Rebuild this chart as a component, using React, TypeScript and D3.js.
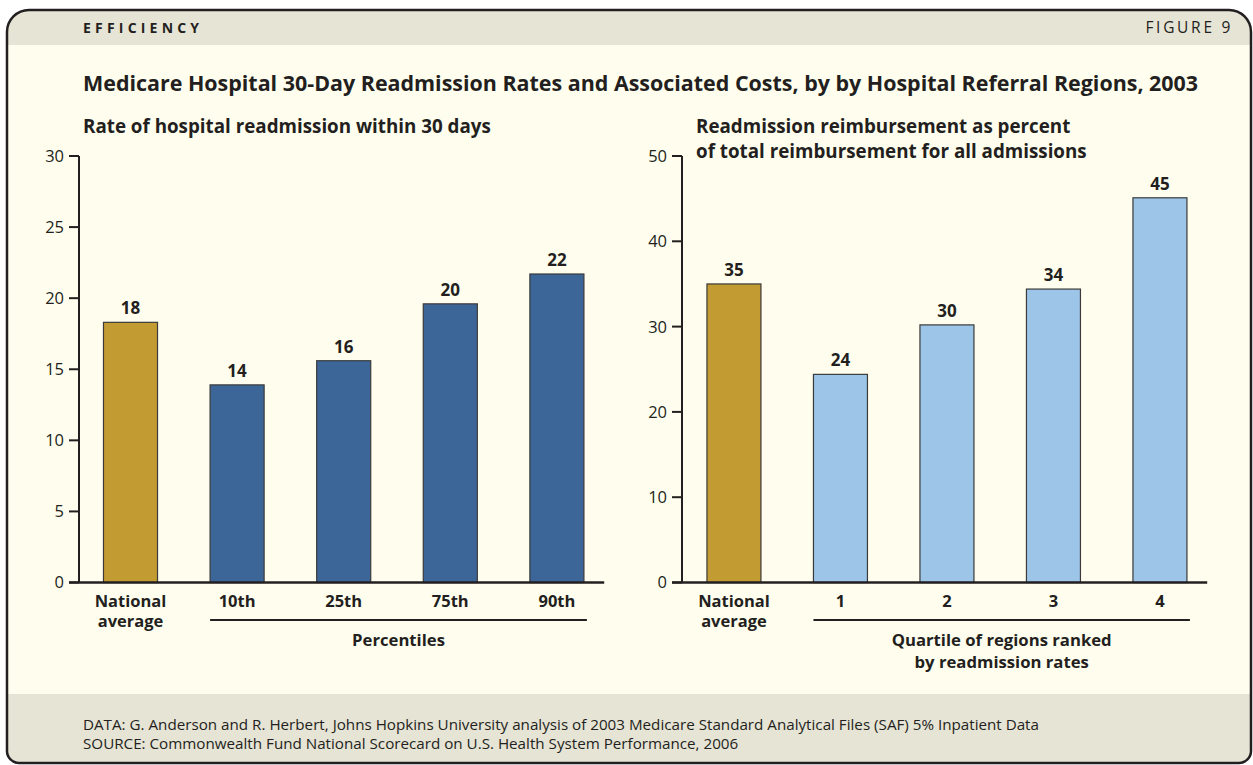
import React from "react";
import * as d3 from "d3";

const leftCategories = ["National average", "10th", "25th", "75th", "90th"];
const leftValues = [18.3, 13.9, 15.6, 19.6, 21.7];
const leftTicks = [0, 5, 10, 15, 20, 25, 30];

const rightCategories = ["National average", "1", "2", "3", "4"];
const rightValues = [35.0, 24.4, 30.2, 34.4, 45.1];
const rightTicks = [0, 10, 20, 30, 40, 50];

const W = 1253;
const H = 765;
const INK = "#231f20";
const GOLD = "#c39b33";
const DARKBLUE = "#3d6698";
const LIGHTBLUE = "#9dc5e8";
const BAND = "#e6e4d5";
const BODY = "#fffeee";
const FONT = "'Open Sans', 'Noto Sans', sans-serif";

function framePath(x0: number, y0: number, x1: number, y1: number, rt: number, rb: number) {
  const p = d3.path();
  p.moveTo(x0 + rt, y0);
  p.lineTo(x1 - rt, y0);
  p.arcTo(x1, y0, x1, y0 + rt, rt);
  p.lineTo(x1, y1 - rb);
  p.arcTo(x1, y1, x1 - rb, y1, rb);
  p.lineTo(x0 + rb, y1);
  p.arcTo(x0, y1, x0, y1 - rb, rb);
  p.lineTo(x0, y0 + rt);
  p.arcTo(x0, y0, x0 + rt, y0, rt);
  p.closePath();
  return p.toString();
}

type PanelProps = {
  categories: string[];
  values: number[];
  ticks: number[];
  axisX: number;
  range: [number, number];
  colors: string[];
  groupLabel: string[];
};

function Panel({ categories, values, ticks, axisX, range, colors, groupLabel }: PanelProps) {
  const y = d3.scaleLinear().domain([0, ticks[ticks.length - 1]]).range([582.5, 156]);
  const x = d3
    .scaleBand<string>()
    .domain(categories)
    .range(range)
    .paddingInner(0.493)
    .paddingOuter(0.2465);
  const bw = x.bandwidth();
  const gStart = x(categories[1])!;
  const gEnd = x(categories[categories.length - 1])! + bw + 3;
  const gMid = (gStart + gEnd) / 2;
  return (
    <g>
      {values.map((v, i) => (
        <g key={i}>
          <rect
            x={x(categories[i])}
            y={y(v)}
            width={bw}
            height={y(0) - y(v)}
            fill={colors[i]}
            stroke="#3a3a3a"
            strokeWidth={1.2}
          />
          <text
            x={x(categories[i])! + bw / 2}
            y={y(v) - 8}
            textAnchor="middle"
            fontFamily={FONT}
            fontWeight={700}
            fontSize={17}
            fill={INK}
          >
            {Math.round(v)}
          </text>
        </g>
      ))}
      {/* y axis */}
      <line x1={axisX} x2={axisX} y1={y(ticks[ticks.length - 1])} y2={y(0)} stroke={INK} strokeWidth={2} />
      {ticks.map((t) => (
        <g key={t}>
          <line x1={axisX - 10} x2={axisX} y1={y(t)} y2={y(t)} stroke={INK} strokeWidth={2} />
          <text
            x={axisX - 15}
            y={y(t)}
            dy="0.36em"
            textAnchor="end"
            fontFamily={FONT}
            fontSize={16.5}
            fill={INK}
          >
            {t}
          </text>
        </g>
      ))}
      {/* x axis */}
      <line x1={axisX - 10} x2={range[1] - 6} y1={y(0)} y2={y(0)} stroke={INK} strokeWidth={2.5} />
      {categories.map((c, i) => {
        const words = i === 0 ? ["National", "average"] : [c];
        return (
          <text
            key={c}
            x={x(c)! + bw / 2}
            y={607}
            textAnchor="middle"
            fontFamily={FONT}
            fontWeight={700}
            fontSize={16.5}
            fill={INK}
          >
            {words.map((w, j) => (
              <tspan key={j} x={x(c)! + bw / 2} dy={j === 0 ? 0 : 19.5}>
                {w}
              </tspan>
            ))}
          </text>
        );
      })}
      <line x1={gStart} x2={gEnd} y1={620} y2={620} stroke={INK} strokeWidth={2} />
      <text x={gMid} y={646} textAnchor="middle" fontFamily={FONT} fontWeight={700} fontSize={16.7} fill={INK}>
        {groupLabel.map((w, j) => (
          <tspan key={j} x={gMid} dy={j === 0 ? 0 : 22}>
            {w}
          </tspan>
        ))}
      </text>
    </g>
  );
}

export default function App() {
  const outer = framePath(7, 10, 1251, 763, 22, 12);
  return (
    <div style={{ position: "absolute", left: 0, top: 0 }}>
      <svg width={W} height={H} viewBox={`0 0 ${W} ${H}`} style={{ display: "block", background: "#fff" }}>
        <defs>
          <clipPath id="frameClip">
            <path d={outer} />
          </clipPath>
        </defs>
        <g clipPath="url(#frameClip)">
          <rect x={0} y={0} width={W} height={H} fill={BODY} />
          <rect x={0} y={0} width={W} height={45} fill={BAND} />
          <rect x={0} y={694} width={W} height={H - 694} fill={BAND} />
        </g>
        <path d={outer} fill="none" stroke={INK} strokeWidth={2.5} />

        <text x={83} y={33} fontFamily={FONT} fontWeight={700} fontSize={14} letterSpacing={4.2} fill={INK}>
          EFFICIENCY
        </text>
        <text x={1233} y={33} textAnchor="end" fontFamily={FONT} fontSize={15.5} letterSpacing={2.7} fill={INK}>
          FIGURE 9
        </text>

        <text x={83} y={91} fontFamily={FONT} fontWeight={700} fontSize={21.45} fill={INK}>
          Medicare Hospital 30-Day Readmission Rates and Associated Costs, by by Hospital Referral Regions, 2003
        </text>
        <text x={83} y={133} fontFamily={FONT} fontWeight={700} fontSize={18.8} fill={INK}>
          Rate of hospital readmission within 30 days
        </text>
        <text x={696} y={133} fontFamily={FONT} fontWeight={700} fontSize={18.8} fill={INK}>
          <tspan x={696}>Readmission reimbursement as percent</tspan>
          <tspan x={696} dy={24.5}>of total reimbursement for all admissions</tspan>
        </text>

        <Panel
          categories={leftCategories}
          values={leftValues}
          ticks={leftTicks}
          axisX={79}
          range={[77.2, 610.2]}
          colors={[GOLD, DARKBLUE, DARKBLUE, DARKBLUE, DARKBLUE]}
          groupLabel={["Percentiles"]}
        />
        <Panel
          categories={rightCategories}
          values={rightValues}
          ticks={rightTicks}
          axisX={682}
          range={[680.7, 1213.2]}
          colors={[GOLD, LIGHTBLUE, LIGHTBLUE, LIGHTBLUE, LIGHTBLUE]}
          groupLabel={["Quartile of regions ranked", "by readmission rates"]}
        />

        <text x={83} y={730} fontFamily={FONT} fontSize={15.2} fill={INK}>
          DATA: G. Anderson and R. Herbert, Johns Hopkins University analysis of 2003 Medicare Standard Analytical Files (SAF) 5% Inpatient Data
        </text>
        <text x={83} y={749} fontFamily={FONT} fontSize={15.2} fill={INK}>
          SOURCE: Commonwealth Fund National Scorecard on U.S. Health System Performance, 2006
        </text>
      </svg>
    </div>
  );
}
